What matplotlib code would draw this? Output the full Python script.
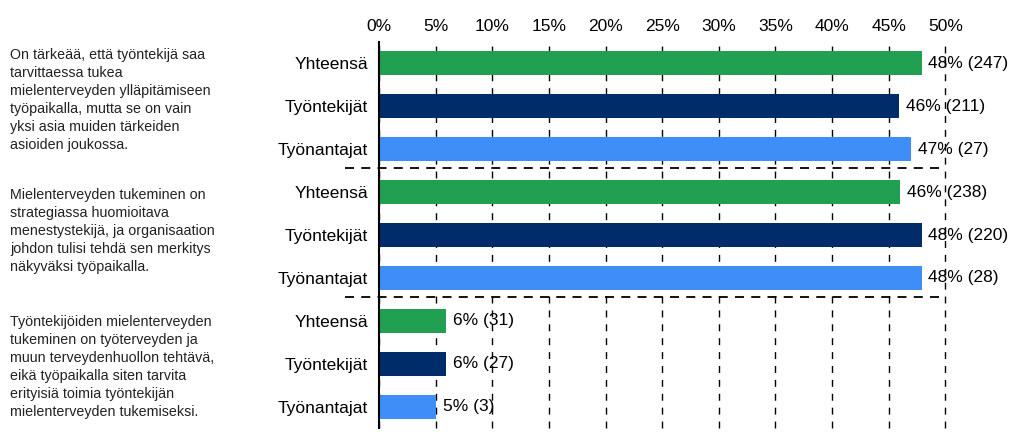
import matplotlib
matplotlib.use("Agg")
import matplotlib.pyplot as plt
from matplotlib.ticker import MultipleLocator, PercentFormatter

plt.rcParams["font.family"] = ["Liberation Sans", "DejaVu Sans"]

# data
groups = ["Yhteensä", "Työntekijät", "Työnantajat"]
values = [47.9, 45.9, 47.0,
          46.0, 47.9, 47.9,
          5.9, 5.9, 5.0]
value_labels = ["48% (247)", "46% (211)", "47% (27)",
                "46% (238)", "48% (220)", "48% (28)",
                "6% (31)", "6% (27)", "5% (3)"]
statements = [
    "On tärkeää, että työntekijä saa\ntarvittaessa tukea\n"
    "mielenterveyden ylläpitämiseen\ntyöpaikalla, mutta se on vain\n"
    "yksi asia muiden tärkeiden\nasioiden joukossa.",
    "Mielenterveyden tukeminen on\nstrategiassa huomioitava\n"
    "menestystekijä, ja organisaation\njohdon tulisi tehdä sen merkitys\n"
    "näkyväksi työpaikalla.",
    "Työntekijöiden mielenterveyden\ntukeminen on työterveyden ja\n"
    "muun terveydenhuollon tehtävä,\neikä työpaikalla siten tarvita\n"
    "erityisiä toimia työntekijän\nmielenterveyden tukemiseksi.",
]
group_colors = ["#22a052", "#002d69", "#3f8ef8"]

labels = groups * len(statements)
colors = group_colors * len(statements)
ypos = list(range(len(values)))

fig = plt.figure(figsize=(10.11, 4.32), dpi=100)
ax = fig.add_axes([0.375, 0.009, 0.56, 0.894])

ax.barh(ypos, values, height=0.56, color=colors, zorder=2)
ax.set_xlim(0, 50)
ax.set_ylim(len(values) - 0.5, -0.5)

ax.xaxis.set_major_locator(MultipleLocator(5))
ax.xaxis.set_major_formatter(PercentFormatter(decimals=0))
ax.xaxis.tick_top()
ax.tick_params(axis="x", length=0, pad=6, labelsize=12.5)
ax.tick_params(axis="y", length=0, pad=8, labelsize=12.5)
ax.set_yticks(ypos)
ax.set_yticklabels(labels)

ax.grid(axis="x", color="black", linestyle=(0, (5, 5)), linewidth=1, zorder=1)
for gl in ax.get_xgridlines():
    gl.set_clip_on(False)
for s in ["top", "right", "bottom"]:
    ax.spines[s].set_visible(False)
ax.spines["left"].set_linewidth(1.5)
ax.spines["left"].set_zorder(3)

for y, v, t in zip(ypos, values, value_labels):
    ax.text(v + 0.6, y, t, va="center", ha="left", fontsize=12.5, zorder=0)

# dashed separators between statement groups
for sep in [2.45, 5.45]:
    ax.axhline(sep, xmin=-0.06, xmax=0.99, color="black",
               linestyle=(0, (5, 4)), linewidth=1.3, clip_on=False, zorder=1)

# statement texts on the left
text_tops = [48, 188, 315]
for txt, top in zip(statements, text_tops):
    fig.text(10 / 1011, 1 - top / 432, txt, ha="left", va="top",
             fontsize=10.3, color="#222222", linespacing=1.37)

fig.savefig("out.png", dpi=100)
